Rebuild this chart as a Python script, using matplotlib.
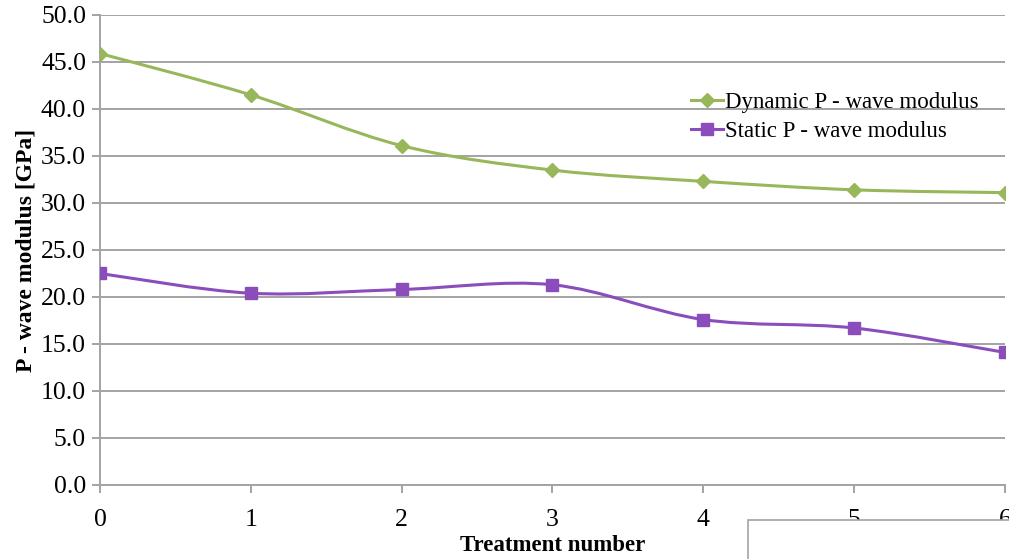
import numpy as np
import matplotlib
matplotlib.use('Agg')
import matplotlib.pyplot as plt
from matplotlib.path import Path
from matplotlib.patches import PathPatch, Rectangle

treatment = [0, 1, 2, 3, 4, 5, 6]
dynamic_modulus = [45.9, 41.5, 36.1, 33.5, 32.3, 31.4, 31.1]
static_modulus = [22.5, 20.4, 20.8, 21.3, 17.6, 16.7, 14.1]

green = '#98b75a'
purple = '#8a4dbb'
grid_gray = '#a3a3a3'

plt.rcParams['font.family'] = ['Liberation Serif', 'DejaVu Serif']


def smooth_path(xs, ys):
    # spreadsheet-style smoothed line: cubic bezier through every point
    verts = [(xs[0], ys[0])]
    codes = [Path.MOVETO]
    n = len(xs)
    for i in range(n - 1):
        x0, y0 = (xs[i - 1], ys[i - 1]) if i > 0 else (xs[i], ys[i])
        x1, y1 = xs[i], ys[i]
        x2, y2 = xs[i + 1], ys[i + 1]
        x3, y3 = (xs[i + 2], ys[i + 2]) if i + 2 < n else (xs[i + 1], ys[i + 1])
        c1 = (x1 + (x2 - x0) / 6, y1 + (y2 - y0) / 6)
        c2 = (x2 - (x3 - x1) / 6, y2 - (y3 - y1) / 6)
        verts += [c1, c2, (x2, y2)]
        codes += [Path.CURVE4] * 3
    return Path(verts, codes)


fig = plt.figure(figsize=(10.09, 5.59), dpi=100)
ax = fig.add_axes([0.0991, 0.1324, 0.8969, 0.8408])

for ys, col, mk, ms, lab in [(dynamic_modulus, green, 'D', 7.5, 'Dynamic P - wave modulus'),
                             (static_modulus, purple, 's', 8.5, 'Static P - wave modulus')]:
    ax.add_patch(PathPatch(smooth_path(treatment, ys), facecolor='none',
                           edgecolor=col, lw=2.2, zorder=3))
    ax.plot(treatment, ys, ls='none', marker=mk, ms=ms, color=col, zorder=4)
    ax.plot([], [], color=col, lw=2.2, marker=mk, ms=ms, label=lab)

ax.set_xlim(0, 6)
ax.set_ylim(0, 50)
ax.set_yticks(np.arange(0, 50.1, 5))
ax.set_yticklabels(['%.1f' % v for v in np.arange(0, 50.1, 5)])
ax.set_xticks(treatment)
ax.yaxis.grid(True, color=grid_gray, lw=1.4)
ax.set_axisbelow(True)
for s in ['top', 'right', 'bottom']:
    ax.spines[s].set_visible(False)
ax.spines['left'].set_color(grid_gray)
ax.spines['left'].set_linewidth(1.4)
ax.axhline(0, color=grid_gray, lw=1.4, zorder=1, clip_on=False)
ax.tick_params(axis='both', colors=grid_gray, width=1.4, length=6, labelsize=18.5,
               labelcolor='black')
ax.tick_params(axis='x', pad=11)
ax.tick_params(axis='y', pad=4)

ax.set_xlabel('Treatment number', fontsize=16.5, fontweight='bold', labelpad=3)
ax.set_ylabel('P - wave modulus [GPa]', fontsize=17, fontweight='bold', labelpad=3.5)

ax.legend(loc='upper left', bbox_to_anchor=(0.64, 0.86), frameon=False,
          fontsize=16.5, handlelength=1.4, handletextpad=0.1, labelspacing=0.35,
          borderpad=0)

# box overlapping the lower right corner
fig.patches.append(Rectangle((748 / 1009, -0.1), 0.4, 0.1 + (559 - 520) / 559,
                             transform=fig.transFigure, facecolor='white',
                             edgecolor=grid_gray, lw=1.2, zorder=10))

fig.savefig('out.png', dpi=100)
